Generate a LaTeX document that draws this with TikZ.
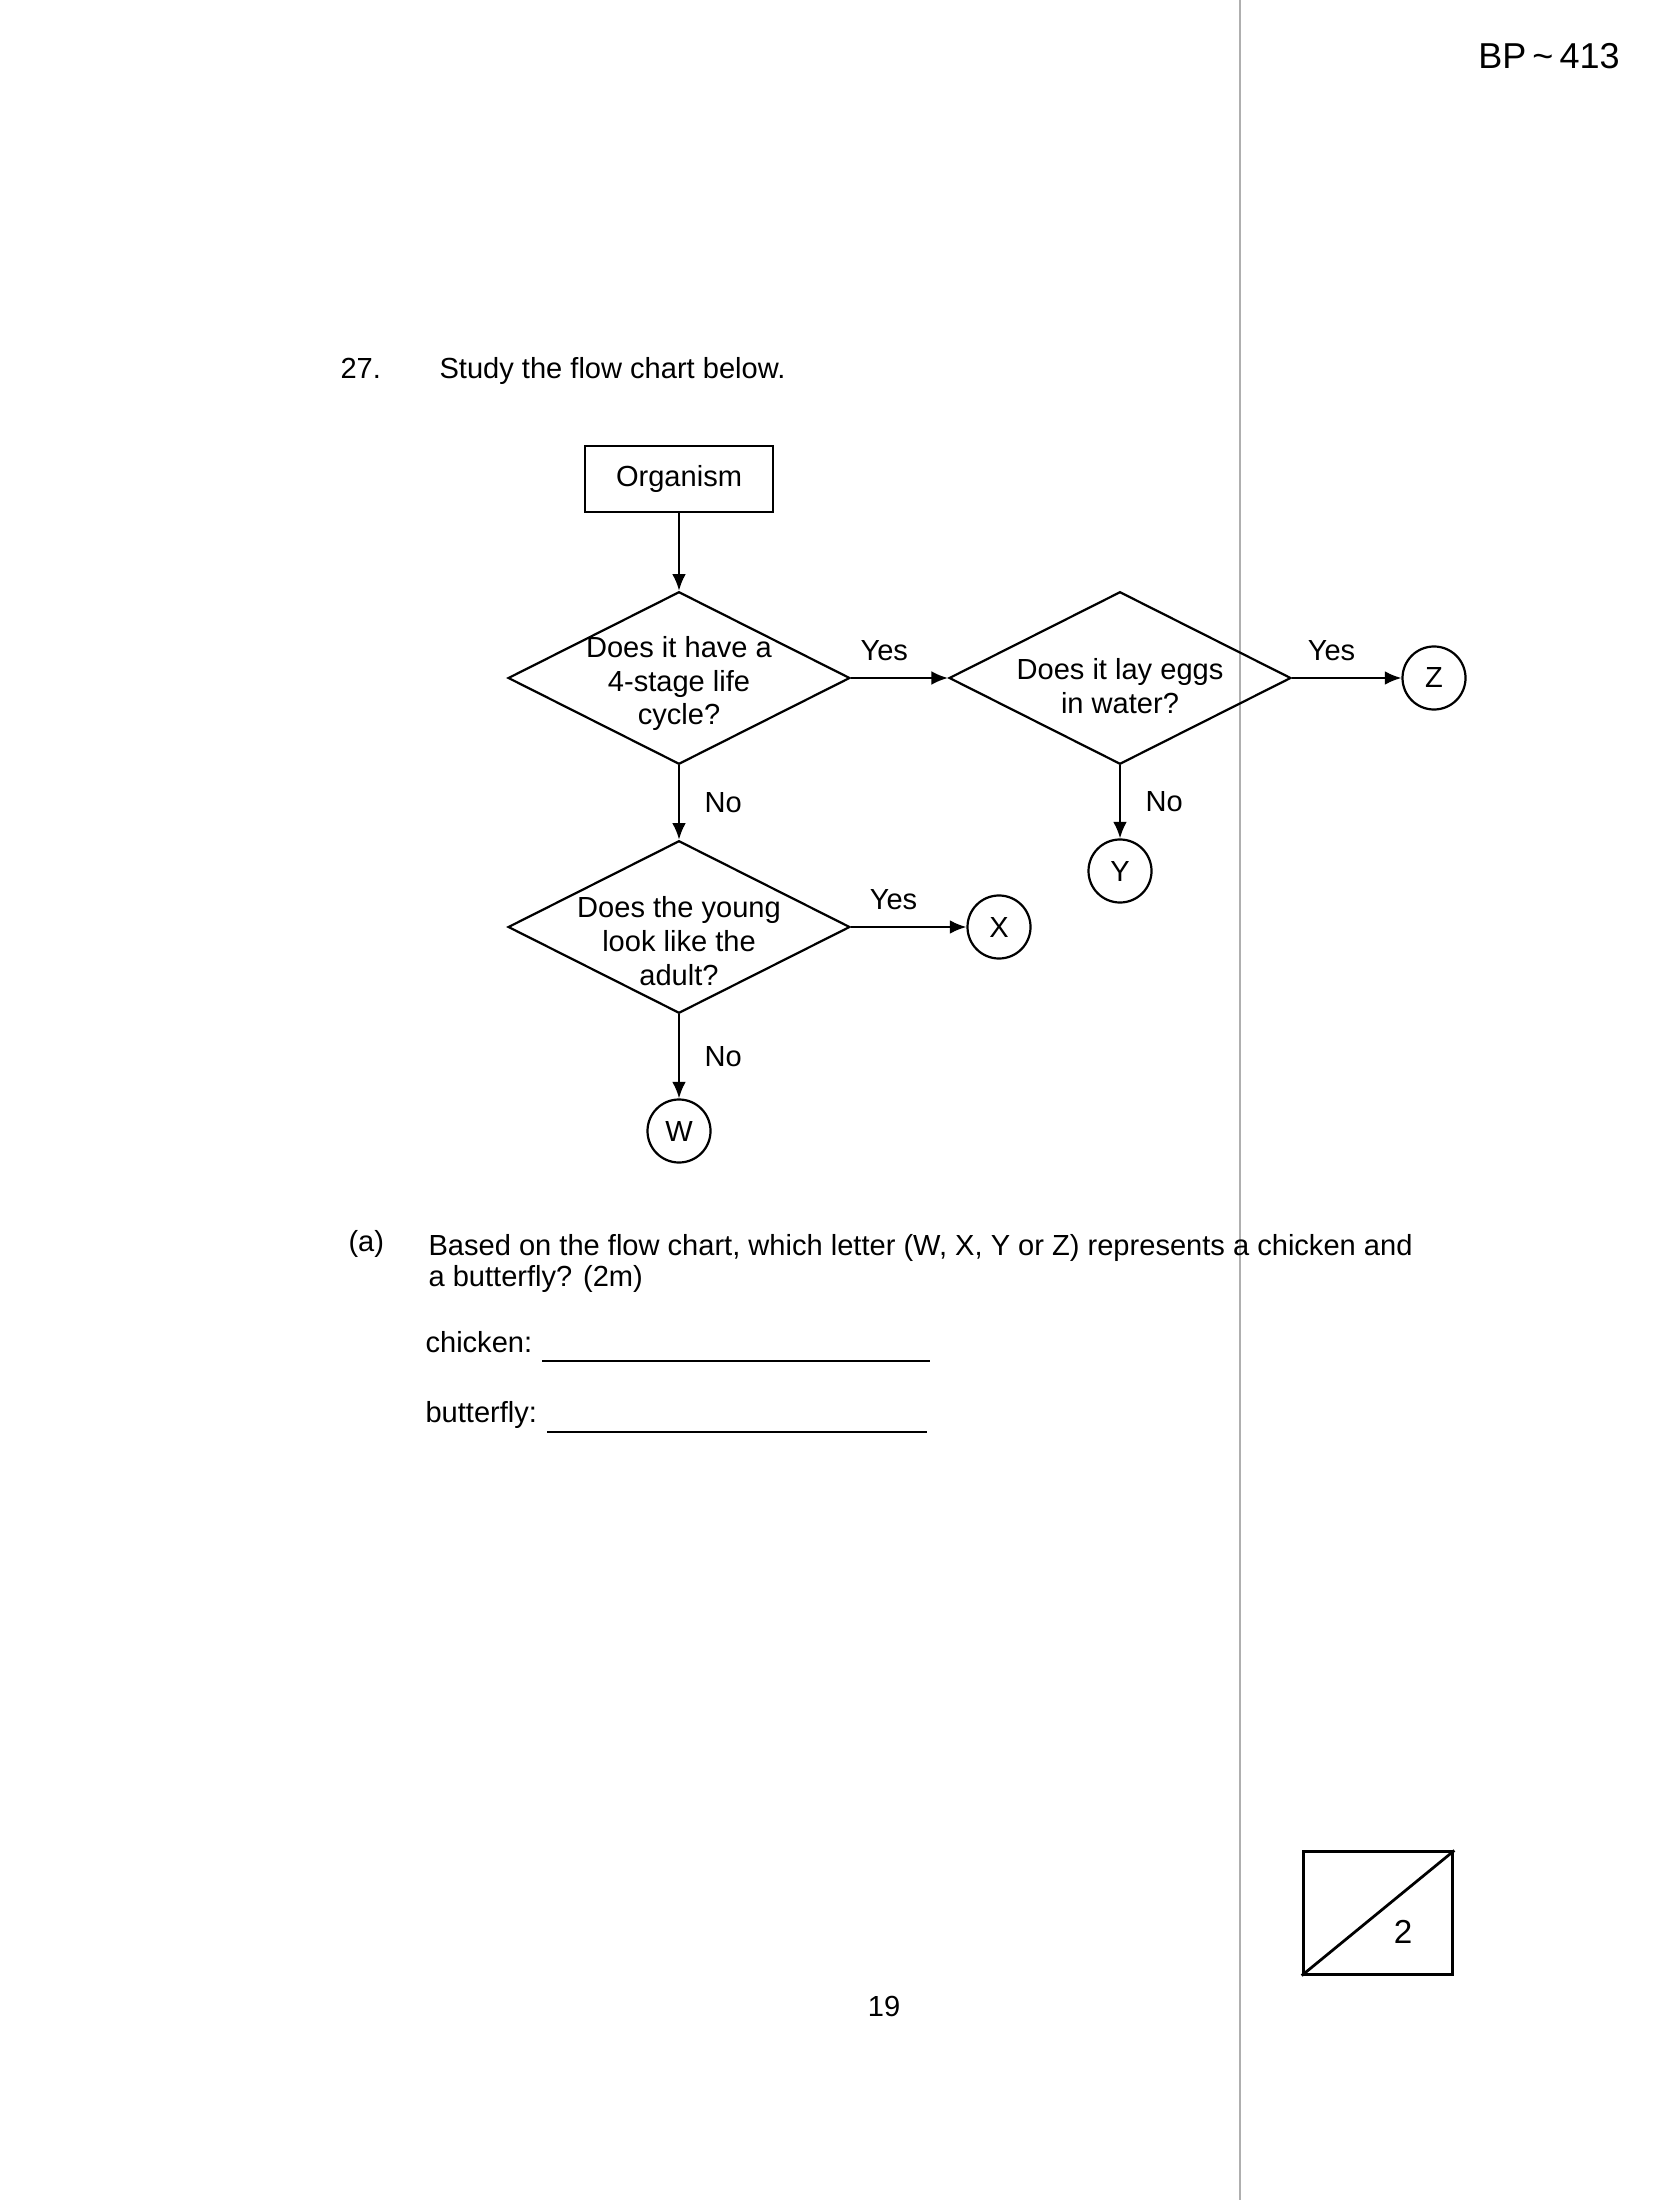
\documentclass[tikz,border=0pt]{standalone}
\usepackage{fontspec}
\setmainfont{Liberation Sans}
\usepackage{tikz}
\usetikzlibrary{shapes.geometric,arrows.meta}
\definecolor{scangray}{RGB}{175,175,175}
\newcommand{\pagefont}{\fontsize{10.5}{12.2}\selectfont}

\begin{document}
\begin{tikzpicture}[x=0.012697cm, y=-0.012697cm, >={Latex[length=6pt,width=5pt]},
    box/.style={draw, line width=0.8pt, minimum width=2.39cm, minimum height=0.84cm, font=\pagefont},
    decision/.style={diamond, draw, line width=0.8pt, minimum width=4.34cm, minimum height=2.19cm, inner sep=0pt},
    question/.style={align=center, inner sep=0pt, font=\pagefont},
    leaf/.style={circle, draw, line width=0.8pt, minimum size=0.8cm, inner sep=0pt, font=\pagefont},
    flow/.style={->, line width=0.8pt},
    yeslbl/.style={inner sep=0pt, font=\pagefont, xshift=-5.5pt, yshift=10pt},
    nolbl/.style={inner sep=0pt, font=\pagefont, xshift=16pt},
    txt/.style={anchor=base west, inner sep=0pt, font=\pagefont}]
    \useasboundingbox (0,0) rectangle (1654,2200);

    % scanner line down the page
    \draw[scangray, line width=0.5pt] (1240,0) -- (1240,2200);

    % header
    \node[inner sep=0pt, font=\fontsize{13}{16}\selectfont] (code) at (1549,56) {BP\,\textasciitilde\,413};

    % question
    \node[txt] (qnum) at (340,379) {27.};
    \node[txt] (qtask) at (439,379) {Study the flow chart below.};

    % flow chart
    \node[box] (org) at (679,479) {Organism};

    \node[decision] (life) at (679,678) {};
    \node[question] (lifetext) at ([yshift=-2pt]life.center) {Does it have a\\4-stage life\\cycle?};

    \node[decision] (eggs) at (1120,678) {};
    \node[question] (eggstext) at ([yshift=-3pt]eggs.center) {Does it lay eggs\\in water?};

    \node[decision] (young) at (679,927) {};
    \node[question] (youngtext) at ([yshift=-5pt]young.center) {Does the young\\look like the\\adult?};

    \node[leaf] (Z) at (1434,678) {Z};
    \node[leaf] (Y) at (1120,871) {Y};
    \node[leaf] (X) at (999,927) {X};
    \node[leaf] (W) at (679,1131) {W};

    \draw[flow] (org) -- (life);
    \draw[flow] (life.east) -- node[yeslbl] {Yes} (eggs.west);
    \draw[flow] (eggs.east) -- node[yeslbl] {Yes} (Z);
    \draw[flow] (eggs.south) -- node[nolbl] {No} (Y);
    \draw[flow] (life.south) -- node[nolbl] {No} (young.north);
    \draw[flow] (young.east) -- node[yeslbl] {Yes} (X);
    \draw[flow] (young.south) -- node[nolbl] {No} (W);

    % part (a)
    \node[txt] (parta) at (348,1251) {(a)};
    \node[txt] (ask) at (428,1255) {Based on the flow chart, which letter (W, X, Y or Z) represents a chicken and};
    \node[txt] (ask2) at (428,1286) {a butterfly? (2m)};
    \node[txt] (chk) at (425,1352) {chicken:};
    \draw[line width=0.9pt] (542,1361) -- (930,1361);
    \node[txt] (bfly) at (425,1422) {butterfly:};
    \draw[line width=0.9pt] (547,1432) -- (927,1432);

    % marks box
    \node[draw, line width=1.1pt, minimum width=1.9cm, minimum height=1.55cm] (marks) at (1378,1913) {};
    \draw[line width=1pt] (marks.south west) -- (marks.north east);
    \node[inner sep=0pt, font=\fontsize{12}{14}\selectfont] (score) at (1403,1932) {2};

    % page number
    \node[inner sep=0pt, font=\pagefont] (pgno) at (884,2006) {19};
\end{tikzpicture}
\end{document}
